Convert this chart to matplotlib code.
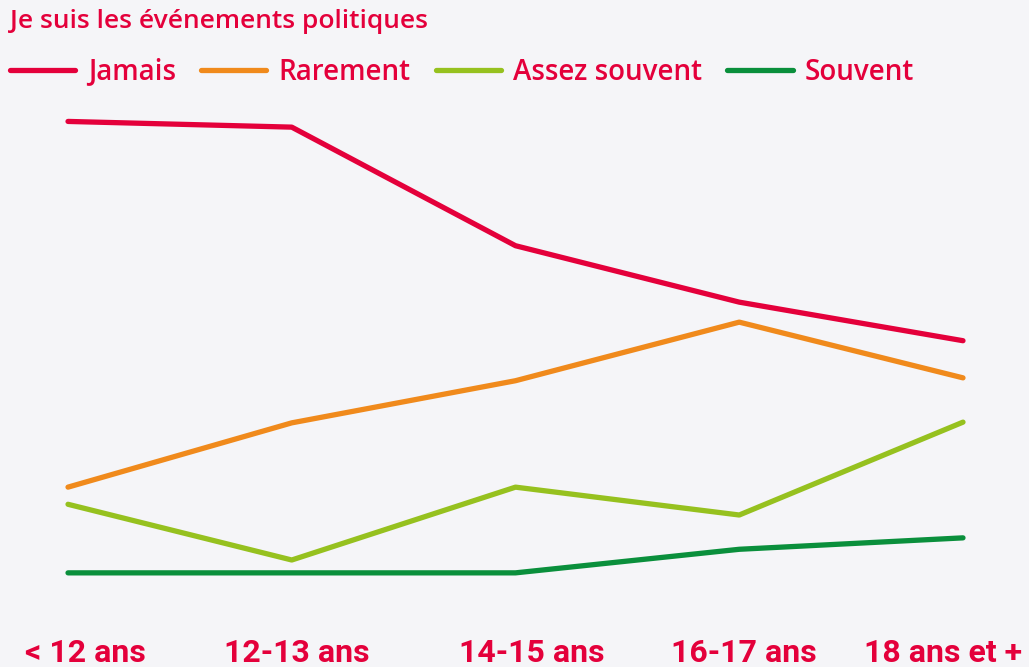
import matplotlib.pyplot as plt
from matplotlib.lines import Line2D
from matplotlib.transforms import ScaledTranslation

# age groups and share of respondents (%) for each answer
ages = ['< 12 ans', '12-13 ans', '14-15 ans', '16-17 ans', '18 ans et +']
jamais = [67.0, 66.2, 49.6, 41.7, 36.3]
rarement = [15.8, 24.8, 30.7, 38.9, 31.1]
assez_souvent = [13.4, 5.6, 15.8, 11.9, 24.9]
souvent = [3.8, 3.8, 3.8, 7.1, 8.7]

series = ['Jamais', 'Rarement', 'Assez souvent', 'Souvent']
colors = ['#e4003b', '#f08a1c', '#96c11f', '#0a8f3c']
red = '#e4003b'
bg = '#f5f5f8'

fig = plt.figure(figsize=(10.29, 6.67), dpi=100, facecolor=bg)
ax = fig.add_axes([0, 67 / 667, 1, 500 / 667], facecolor=bg)

x = range(len(ages))
for vals, name, c in zip([jamais, rarement, assez_souvent, souvent], series, colors):
    ax.plot(x, vals, color=c, lw=3.8, solid_capstyle='round', solid_joinstyle='round', label=name)

ax.set_xlim(-0.304, 4.295)
ax.set_ylim(0, 70)
ax.set_yticks([])
ax.set_xticks(list(x))
ax.set_xticklabels(ages, fontsize=23, fontweight='bold', color=red, family='Roboto')
ax.tick_params(axis='x', length=0, pad=27)
# the labels in the original sit a little off their points
shifts = [17, 5, 16, 5, -20]
for lbl, dx in zip(ax.get_xticklabels(), shifts):
    lbl.set_transform(lbl.get_transform() + ScaledTranslation(dx / 100, 0, fig.dpi_scale_trans))
for s in ax.spines.values():
    s.set_visible(False)

fig.text(10 / 1029, 1 - 22 / 667, 'Je suis les événements politiques', fontsize=19,
         fontweight='semibold', color=red, family='Open Sans', va='center', ha='left')

handles = [Line2D([], [], color=c, lw=3.8, solid_capstyle='round') for c in colors]
leg = fig.legend(handles, series, loc='center left', bbox_to_anchor=(10 / 1029, 1 - 72 / 667),
                 ncol=4, frameon=False, handlelength=2.35, handletextpad=0.45,
                 columnspacing=0.9, borderaxespad=0, borderpad=0,
                 prop={'family': 'Open Sans', 'size': 20, 'weight': 'semibold'})
for t in leg.get_texts():
    t.set_color(red)

fig.savefig('out.png', dpi=100, facecolor=bg)
